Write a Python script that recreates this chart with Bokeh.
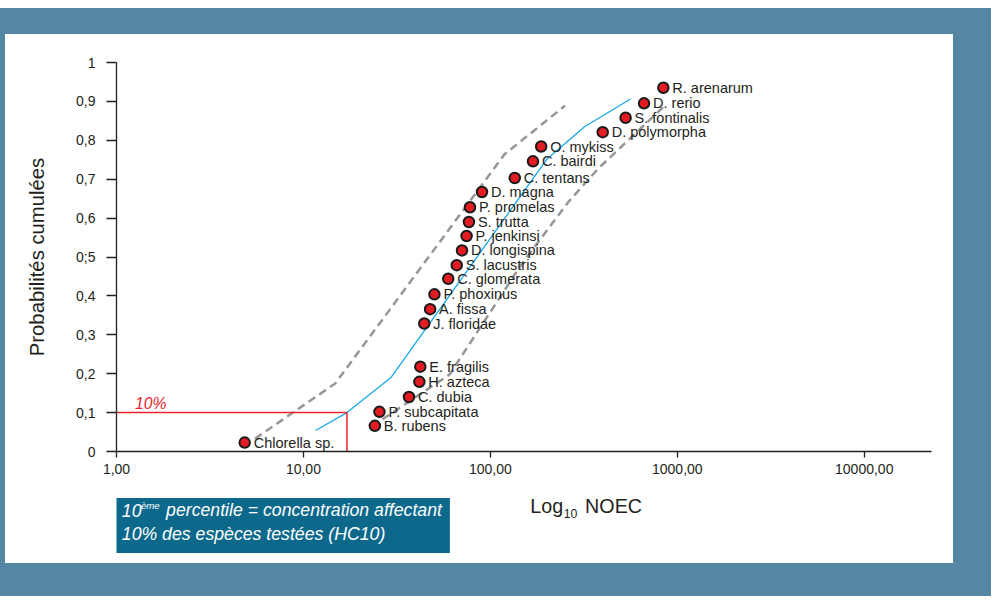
from bokeh.plotting import figure
from bokeh.models import (ColumnDataSource, LabelSet, Label, FixedTicker, Range1d,
                          BoxAnnotation, Spacer)
from bokeh.core.properties import value
from bokeh.layouts import column
from bokeh.embed import file_html
from bokeh.resources import INLINE

# ---------------- data ----------------
species = ["Chlorella sp.", "B. rubens", "P. subcapitata", "C. dubia", "H. azteca",
           "E. fragilis", "J. floridae", "A. fissa", "P. phoxinus", "C. glomerata",
           "S. lacustris", "D. longispina", "P. jenkinsi", "S. trutta", "P. promelas",
           "D. magna", "C. tentans", "C. bairdi", "O. mykiss", "D. polymorpha",
           "S. fontinalis", "D. rerio", "R. arenarum"]
noec = [4.85, 24.1, 25.5, 36.7, 41.7, 42.2, 44.3, 47.6, 50.2, 59.5, 66.1, 70.5, 74.6,
        76.8, 77.8, 90.2, 135, 169, 187, 399, 529, 664, 842]
cum_prob = [0.023, 0.066, 0.102, 0.140, 0.179, 0.218, 0.329, 0.366, 0.404, 0.444,
            0.479, 0.517, 0.554, 0.590, 0.628, 0.667, 0.703, 0.746, 0.784, 0.821,
            0.858, 0.895, 0.935]

fit_x = [11.6, 17.1, 29.5, 201, 319, 562]
fit_y = [0.054, 0.1, 0.191, 0.752, 0.835, 0.906]
upper_x = [5.51, 14.8, 119, 251]
upper_y = [0.033, 0.175, 0.764, 0.889]
lower_x = [26.5, 60.5, 148, 262, 377, 839]
lower_y = [0.083, 0.198, 0.484, 0.642, 0.727, 0.885]

hc10 = 17.1
p10 = 0.1

x_ticks = [1, 10, 100, 1000, 10000]
x_tick_labels = ["1,00", "10,00", "100,00", "1000,00", "10000,00"]
y_ticks = [0, 0.1, 0.2, 0.3, 0.4, 0.5, 0.6, 0.7, 0.8, 0.9, 1.0]
y_tick_labels = ["0", "0,1", "0,2", "0,3", "0,4", "0;5", "0,6", "0,7", "0,8", "0,9", "1"]

FONT = "Liberation Sans"
TXT = "#231f20"
FRAME_BLUE = "#5587a5"
BOX_BLUE = "#0c698c"
RED = "#e8242c"

# ---------------- main chart ----------------
p = figure(width=948, height=446, x_axis_type="log",
           x_range=Range1d(1, 22900), y_range=Range1d(0, 1),
           output_backend="svg", toolbar_location=None,
           min_border_left=111, min_border_right=22, min_border_top=28,
           min_border_bottom=29, background_fill_color="white",
           border_fill_color="white", outline_line_color=None)
p.grid.visible = False

p.xaxis.ticker = FixedTicker(ticks=x_ticks, minor_ticks=[])
p.xaxis.major_label_overrides = {t: l for t, l in zip(x_ticks, x_tick_labels)}
p.yaxis.ticker = FixedTicker(ticks=y_ticks, minor_ticks=[])
p.yaxis.major_label_overrides = {t: l for t, l in zip(y_ticks, y_tick_labels)}
for ax in (p.xaxis, p.yaxis):
    ax.axis_line_color = TXT
    ax.axis_line_width = 1.3
    ax.major_tick_line_color = TXT
    ax.major_tick_line_width = 1.3
    ax.major_tick_in = 0
    ax.minor_tick_line_color = None
    ax.major_label_text_font = FONT
    ax.major_label_text_font_size = "14px"
    ax.major_label_text_color = TXT
p.xaxis.major_tick_out = 6
p.xaxis.major_label_standoff = 6
p.yaxis.major_tick_out = 10
p.yaxis.major_label_standoff = 11
p.yaxis.axis_label = "Probabilités cumulées"
p.yaxis.axis_label_text_font = FONT
p.yaxis.axis_label_text_font_size = "20.3px"
p.yaxis.axis_label_text_font_style = "normal"
p.yaxis.axis_label_text_color = TXT
p.yaxis.axis_label_standoff = 25

# confidence bounds
p.line(upper_x, upper_y, line_color="#969696", line_width=2.5, line_dash="8 5")
p.line(lower_x, lower_y, line_color="#969696", line_width=2.5, line_dash="8 5")
# fitted distribution
p.line(fit_x, fit_y, line_color="#18a9e6", line_width=1.3)
# HC10 guide lines
p.line([1, hc10], [p10, p10], line_color=RED, line_width=1.5)
p.line([hc10, hc10], [0, p10], line_color=RED, line_width=1.5)

src = ColumnDataSource(dict(x=noec, y=cum_prob, name=species))
p.scatter("x", "y", source=src, size=10.5, fill_color="#e31b23",
          line_color="#1a1a1a", line_width=2)
p.add_layout(LabelSet(x="x", y="y", text="name", source=src, x_offset=9,
                      text_baseline="middle", text_font=value(FONT),
                      text_font_size="14.5px", text_color=TXT))

p.add_layout(Label(x=18.5, y=48.5, x_units="screen", y_units="screen", text="10%",
                   text_font=FONT, text_font_size="15.7px", text_font_style="italic",
                   text_color=RED, text_baseline="alphabetic"))

# ---------------- lower strip: axis title + explanatory box ----------------
# frame aligned with the chart frame; coordinates are pixels from frame left / strip top
FW, H2 = 815, 83
q = figure(width=948, height=H2, x_range=Range1d(0, FW), y_range=Range1d(H2, 0),
           output_backend="svg", toolbar_location=None,
           x_axis_location=None, y_axis_location=None,
           min_border_left=111, min_border_right=22, min_border_top=0,
           min_border_bottom=0,
           background_fill_color="white", border_fill_color="white",
           outline_line_color=None)
q.grid.visible = False

q.add_layout(Label(x=413.8, y=25, text="Log", text_font=FONT,
                   text_font_size="19.7px", text_color=TXT, text_baseline="alphabetic"))
q.add_layout(Label(x=447.2, y=32.9, text="10", text_font=FONT,
                   text_font_size="12.3px", text_color=TXT, text_baseline="alphabetic"))
q.add_layout(Label(x=468.6, y=25, text="NOEC", text_font=FONT,
                   text_font_size="19.7px", text_color=TXT, text_baseline="alphabetic"))

q.add_layout(BoxAnnotation(left=-1.2, right=333.4, top=17.6, bottom=72.5,
                           fill_color=BOX_BLUE, fill_alpha=1, line_color=None))
q.add_layout(Label(x=5.3, y=29.6, text="10", text_font=FONT,
                   text_font_size="17.7px", text_font_style="italic",
                   text_color="white", text_baseline="alphabetic"))
q.add_layout(Label(x=24.4, y=25.4, text="ème", text_font=FONT,
                   text_font_size="9.7px", text_font_style="italic",
                   text_color="white", text_baseline="alphabetic"))
q.add_layout(Label(x=49.6, y=29.6, text="percentile = concentration affectant",
                   text_font=FONT, text_font_size="17.7px", text_font_style="italic",
                   text_color="white", text_baseline="alphabetic"))
q.add_layout(Label(x=5.3, y=53, text="10% des espèces testées (HC10)",
                   text_font=FONT, text_font_size="17.7px", text_font_style="italic",
                   text_color="white", text_baseline="alphabetic"))

inner = column(p, q, spacing=0, styles={"background-color": "white"})
framed = column(inner, styles={"background-color": FRAME_BLUE,
                               "padding": "26px 38px 33px 5px"})
page = column(Spacer(width=991, height=8), framed, spacing=0)

open("out.html", "w").write(file_html(page, INLINE))
